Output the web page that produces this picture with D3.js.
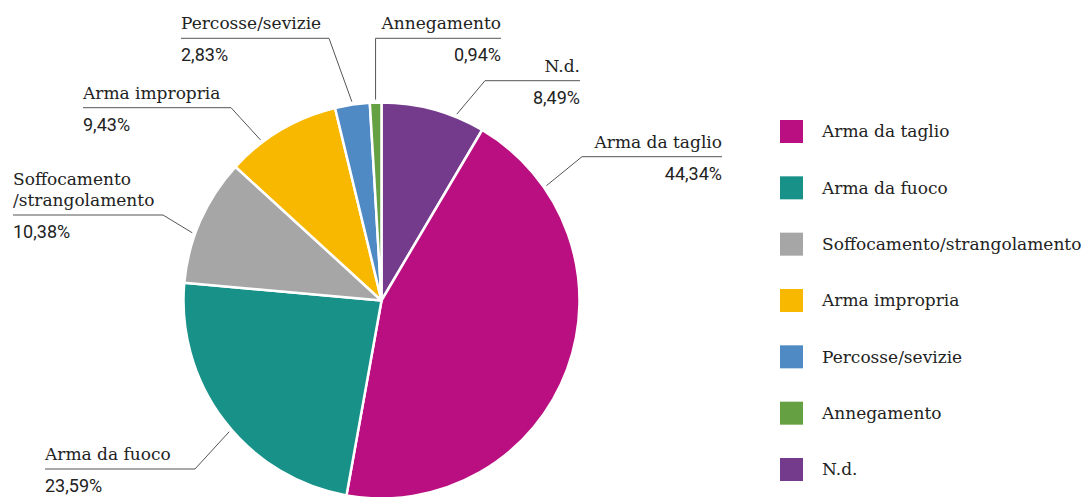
<!DOCTYPE html>
<html>
<head>
<meta charset="utf-8">
<script src="https://cdn.jsdelivr.net/npm/d3@7"></script>
<style>
  body { margin: 0; background: #fff; }
  .lbl { font-family: "DejaVu Serif", serif; font-size: 17px; fill: #222; }
  .pct { font-family: Roboto, "Liberation Sans", sans-serif; font-size: 18px; fill: #222; }
</style>
</head>
<body>
<svg class="chart" width="1085" height="497"></svg>
<script>
// dati
const categories = ["N.d.", "Arma da taglio", "Arma da fuoco", "Soffocamento/strangolamento", "Arma impropria", "Percosse/sevizie", "Annegamento"];
const values = [8.49, 44.34, 23.59, 10.38, 9.43, 2.83, 0.94];
const colors = ["#743b8c", "#ba0f80", "#189188", "#a6a6a6", "#f8b800", "#4f8ac4", "#65a042"];
const labelLines = [["N.d."], ["Arma da taglio"], ["Arma da fuoco"], ["Soffocamento", "/strangolamento"], ["Arma impropria"], ["Percosse/sevizie"], ["Annegamento"]];
const legendOrder = ["Arma da taglio", "Arma da fuoco", "Soffocamento/strangolamento", "Arma impropria", "Percosse/sevizie", "Annegamento", "N.d."];

// posizione delle etichette: punto nella fetta (t), gomito, linea orizzontale
const labelLayout = [
  { t: 0.72, elbowX: 485, lineY: 80.7, endX: 580, anchor: "end" },
  { t: 0.154, elbowX: 582, lineY: 156.7, endX: 722, anchor: "end" },
  { t: 0.46, elbowX: 195, lineY: 469, endX: 45, anchor: "start" },
  { t: 0.39, elbowX: 163, lineY: 215, endX: 13, anchor: "start" },
  { t: 0.31, elbowX: 231, lineY: 107.7, endX: 83, anchor: "start" },
  { t: 0.5, elbowX: 329, lineY: 38.3, endX: 181, anchor: "start" },
  { t: 0.5, elbowX: null, lineY: 38.3, endX: 501, anchor: "end" }
];

const svg = d3.select(".chart");
const cx = 381.5, cy = 300.5, r = 198;

const color = d3.scaleOrdinal().domain(categories).range(colors);
const pie = d3.pie().sort(null).value(d => d.value);
const arc = d3.arc().innerRadius(0).outerRadius(r);

const data = categories.map((c, i) => ({ name: c, value: values[i], lines: labelLines[i], lay: labelLayout[i] }));
const arcs = pie(data);

const g = svg.append("g").attr("transform", `translate(${cx},${cy})`);
g.selectAll("path")
  .data(arcs)
  .enter()
  .append("path")
  .attr("d", arc)
  .attr("fill", d => color(d.data.name))
  .attr("stroke", "#fff")
  .attr("stroke-width", 2.5)
  .attr("stroke-linejoin", "round");

const fmt = v => v.toFixed(2).replace(".", ",") + "%";

// etichette con linee guida
arcs.forEach(d => {
  const lay = d.data.lay;
  const a = d.startAngle + (d.endAngle - d.startAngle) * lay.t;
  const px = cx + (r + 3) * Math.sin(a);
  const py = cy - (r + 3) * Math.cos(a);
  const ex = lay.elbowX === null ? px : lay.elbowX;
  svg.append("polyline")
    .attr("points", [[px, py], [ex, lay.lineY], [lay.endX, lay.lineY]].map(p => p.join(",")).join(" "))
    .attr("fill", "none")
    .attr("stroke", "#555")
    .attr("stroke-width", 1);
  const n = d.data.lines.length;
  d.data.lines.forEach((ln, i) => {
    svg.append("text").attr("class", "lbl")
      .attr("x", lay.endX)
      .attr("y", lay.lineY - 9 - (n - 1 - i) * 21)
      .attr("text-anchor", lay.anchor)
      .text(ln);
  });
  svg.append("text").attr("class", "pct")
    .attr("x", lay.endX)
    .attr("y", lay.lineY + 23)
    .attr("text-anchor", lay.anchor)
    .text(fmt(d.data.value));
});

// legenda
const ly = d3.scalePoint().domain(legendOrder).range([131.5, 469.5]);
const leg = svg.append("g");
leg.selectAll("rect")
  .data(legendOrder)
  .enter()
  .append("rect")
  .attr("x", 780)
  .attr("y", d => ly(d) - 11.5)
  .attr("width", 23)
  .attr("height", 23)
  .attr("fill", d => color(d));
leg.selectAll("text")
  .data(legendOrder)
  .enter()
  .append("text")
  .attr("class", "lbl")
  .attr("x", 822)
  .attr("y", d => ly(d))
  .attr("dy", "0.35em")
  .text(d => d);
</script>
</body>
</html>
